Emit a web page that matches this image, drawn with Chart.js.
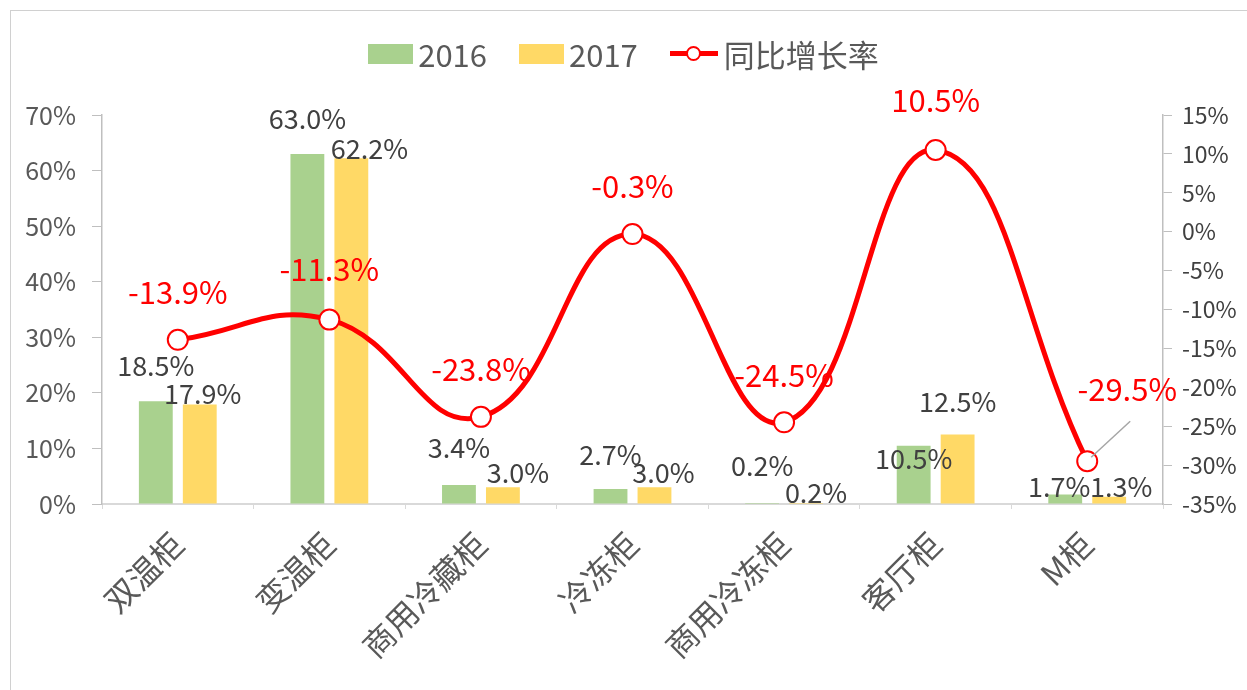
<!DOCTYPE html>
<html>
<head>
<meta charset="utf-8">
<script src="https://cdn.jsdelivr.net/npm/chart.js@4.4.1/dist/chart.umd.min.js"></script>
<style>
  body { margin: 0; background: #fff; font-family: "Noto Sans CJK SC", "Noto Sans", sans-serif; }
  #wrap { position: relative; width: 1247px; height: 690px; overflow: hidden; }
  #frame { position: absolute; left: 10px; top: 10px; width: 1245px; height: 690px; border: 1px solid #d0d0d0; }
  #chart { position: absolute; left: 0; top: 0; }
  #legend { position: absolute; left: 0; top: 31px; width: 1247px; display: flex; justify-content: center; align-items: center; font-size: 31px; color: #595959; }
  .item { display: flex; align-items: center; margin: 0 16px; }
  .box { width: 45px; height: 20px; margin-right: 5px; }
  .line { position: relative; width: 48px; height: 5px; background: #ff0000; margin-right: 6px; }
  .line span { position: absolute; left: 16px; top: -5px; width: 15px; height: 15px; border: 2px solid #ff0000; border-radius: 50%; background: #fff; box-sizing: border-box; }
</style>
</head>
<body>
<div id="wrap">
  <div id="frame"></div>
  <canvas id="chart" width="1247" height="690"></canvas>
  <div id="legend">
    <div class="item"><div class="box" style="background:#a9d18e"></div>2016</div>
    <div class="item"><div class="box" style="background:#ffd966"></div>2017</div>
    <div class="item"><div class="line"><span></span></div>同比增长率</div>
  </div>
</div>
<script>
var categories = ['双温柜', '变温柜', '商用冷藏柜', '冷冻柜', '商用冷冻柜', '客厅柜', 'M柜'];
var share2016 = [18.5, 63.0, 3.4, 2.7, 0.2, 10.5, 1.7];
var share2017 = [17.9, 62.2, 3.0, 3.0, 0.2, 12.5, 1.3];
var growth = [-13.9, -11.3, -23.8, -0.3, -24.5, 10.5, -29.5];

// label nudges (dx, dy from the mark), Excel-style manual placement
var shift2016 = [[0, -35], [0, -35], [0, -37], [0, -34], [0, -37], [0, 13], [-6, -8]];
var shift2017 = [[3, -11], [18, -10], [15, -15], [9, -15], [10, -10], [0, -33], [12, -10]];
var shiftGrowth = [[0, -48], [0, -50], [0, -48], [0, -48], [0, -47], [0, -50], [40, -72]];

Chart.defaults.font.family = '"Noto Sans CJK SC", "Noto Sans", sans-serif';
Chart.defaults.color = '#595959';

var valueLabels = {
    id: 'valueLabels',
    afterDatasetsDraw: function (chart) {
        var ctx = chart.ctx;
        chart.data.datasets.forEach(function (ds, i) {
            var meta = chart.getDatasetMeta(i);
            var lab = ds.valueLabel;
            ctx.save();
            ctx.font = lab.font;
            ctx.fillStyle = lab.color;
            ctx.textAlign = 'center';
            ctx.textBaseline = 'middle';
            meta.data.forEach(function (el, j) {
                var s = lab.shift[j];
                var x = el.x + s[0], y = el.y + s[1];
                if (lab.leader && Math.abs(s[0]) > 20) {
                    ctx.save();
                    ctx.strokeStyle = '#a6a6a6';
                    ctx.lineWidth = 1.5;
                    ctx.beginPath();
                    ctx.moveTo(x + 3, y + 32);
                    ctx.lineTo(el.x + 4, el.y - 4);
                    ctx.stroke();
                    ctx.restore();
                }
                ctx.fillText(ds.data[j].toFixed(1) + '%', x, y);
            });
            ctx.restore();
        });
    }
};

var ctx = document.getElementById('chart').getContext('2d');
var chart = new Chart(ctx, {
    type: 'bar',
    data: {
        labels: categories,
        datasets: [
            {
                type: 'line',
                label: '同比增长率',
                data: growth,
                yAxisID: 'y1',
                order: 0,
                borderColor: '#ff0000',
                borderWidth: 5,
                tension: 0.45,
                pointRadius: 10,
                pointBorderWidth: 2,
                pointBackgroundColor: '#ffffff',
                pointBorderColor: '#ff0000',
                valueLabel: { font: '31px "Noto Sans CJK SC"', color: '#ff0000', shift: shiftGrowth, leader: true }
            },
            {
                label: '2016',
                data: share2016,
                yAxisID: 'y',
                order: 1,
                backgroundColor: '#a9d18e',
                categoryPercentage: 0.58,
                barPercentage: 0.77,
                valueLabel: { font: '27px "Noto Sans CJK SC"', color: '#404040', shift: shift2016 }
            },
            {
                label: '2017',
                data: share2017,
                yAxisID: 'y',
                order: 1,
                backgroundColor: '#ffd966',
                categoryPercentage: 0.58,
                barPercentage: 0.77,
                valueLabel: { font: '27px "Noto Sans CJK SC"', color: '#404040', shift: shift2017 }
            }
        ]
    },
    options: {
        responsive: false,
        animation: false,
        layout: { padding: { top: 115, left: 0, right: 0, bottom: 0 } },
        plugins: {
            legend: { display: false },
            tooltip: { enabled: false }
        },
        scales: {
            x: {
                afterFit: function (s) { s.height = 186; },
                border: { color: '#d9d9d9', width: 2 },
                grid: { drawOnChartArea: false, tickLength: 5, color: '#d9d9d9' },
                ticks: { minRotation: 45, maxRotation: 45, padding: 16, font: { size: 32 }, color: '#595959' }
            },
            y: {
                position: 'left',
                min: 0,
                max: 70,
                afterFit: function (s) { s.width = 102; },
                border: { color: '#bfbfbf', width: 1.5 },
                grid: { drawOnChartArea: false, tickLength: 10, color: '#bfbfbf' },
                ticks: { stepSize: 10, padding: 16, font: { size: 25 }, color: '#595959',
                    callback: function (v) { return v + '%'; } }
            },
            y1: {
                position: 'right',
                min: -35,
                max: 15,
                afterFit: function (s) { s.width = 84; },
                border: { color: '#bfbfbf', width: 1.5 },
                grid: { drawOnChartArea: false, tickLength: 9, color: '#bfbfbf' },
                ticks: { stepSize: 5, padding: 10, font: { size: 23 }, color: '#404040',
                    callback: function (v) { return v + '%'; } }
            }
        }
    },
    plugins: [valueLabels]
});
</script>
</body>
</html>
